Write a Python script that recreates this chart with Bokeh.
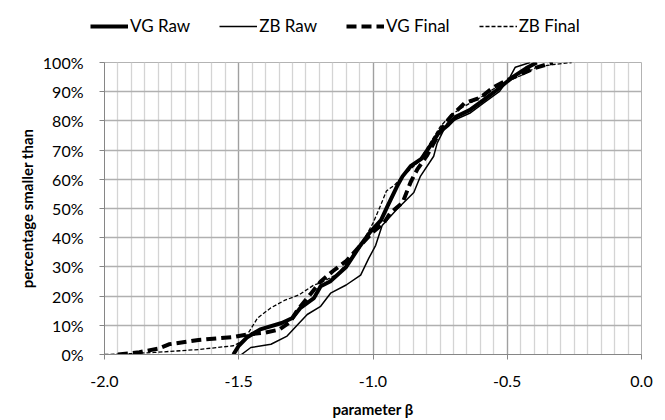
from bokeh.plotting import figure
from bokeh.layouts import column
from bokeh.models import (Range1d, SingleIntervalTicker, NumeralTickFormatter, Legend, LegendItem)
from bokeh.embed import file_html
from bokeh.resources import INLINE

# ---- data (parameter beta vs. cumulative percentage) ----
vg_raw_x = [-1.52, -1.50, -1.47, -1.42, -1.34, -1.30, -1.27, -1.22, -1.195, -1.16, -1.10, -1.05,
            -1.01, -0.97, -0.945, -0.91, -0.89, -0.86, -0.82, -0.79, -0.755, -0.72, -0.69, -0.64,
            -0.59, -0.54, -0.48, -0.43, -0.39]
vg_raw_y = [0, 3, 5.8, 8.6, 10.8, 12.5, 16, 19.3, 23.4, 25, 30, 37, 42, 46, 51, 57.7, 61, 64.5,
            67, 71, 76, 78.6, 81.5, 83.7, 87, 90.5, 95, 98, 100]

zb_raw_x = [-1.49, -1.455, -1.38, -1.32, -1.28, -1.245, -1.195, -1.158, -1.10, -1.046, -1.016,
            -0.99, -0.966, -0.91, -0.873, -0.848, -0.823, -0.774, -0.761, -0.724, -0.64, -0.59,
            -0.53, -0.49, -0.47, -0.415]
zb_raw_y = [0, 2.4, 3.5, 6.3, 10.3, 13.7, 16.5, 21, 23.8, 27.2, 32.9, 37.4, 44.2, 49.8, 53.2,
            55.5, 61.1, 67.9, 72.4, 79.2, 82.6, 86, 90, 95, 98.4, 100]

vg_final_x = [-1.95, -1.87, -1.80, -1.76, -1.65, -1.52, -1.47, -1.40, -1.35, -1.31, -1.28, -1.23,
              -1.195, -1.15, -1.10, -1.05, -1.00, -0.96, -0.935, -0.89, -0.86, -0.835, -0.80,
              -0.77, -0.74, -0.71, -0.66, -0.60, -0.55, -0.50, -0.45, -0.40, -0.33]
vg_final_y = [0, 0.8, 2, 3.5, 5, 6, 6.8, 7.5, 8.5, 11, 15.4, 21, 25, 28.5, 32, 37, 42, 45, 48.5,
              52, 59, 63.4, 68, 73, 78, 81.5, 86, 88, 91.6, 94, 96, 98, 100]

zb_final_x = [-2.0, -1.90, -1.815, -1.65, -1.52, -1.486, -1.46, -1.43, -1.38, -1.33, -1.276,
              -1.22, -1.195, -1.133, -1.10, -1.06, -1.03, -1.00, -0.972, -0.95, -0.92, -0.89,
              -0.83, -0.79, -0.75, -0.71, -0.66, -0.60, -0.55, -0.50, -0.45, -0.39, -0.33, -0.26]
zb_final_y = [0, 0.3, 0.7, 1.7, 3, 4.6, 8, 12.5, 16, 18.5, 20.4, 23.8, 24.5, 27.5, 31, 36, 40,
              45, 51, 56, 58, 61, 66, 72, 78, 82, 85, 88, 91, 93.5, 95.5, 98.4, 99.3, 100]

series_names = ["VG Raw", "ZB Raw", "VG Final", "ZB Final"]

FONT = "Lato"
FS = "16px"

STYLES = [dict(line_color="black", line_width=4, line_join="round"),
          dict(line_color="black", line_width=1.5, line_join="round"),
          dict(line_color="black", line_width=4, line_dash="10 5", line_join="round"),
          dict(line_color="black", line_width=1.3, line_dash="4 2", line_join="round")]

def pct(v):
    return [a / 100.0 for a in v]

SERIES = [(vg_raw_x, vg_raw_y), (zb_raw_x, zb_raw_y),
          (vg_final_x, vg_final_y), (zb_final_x, zb_final_y)]

# ---- main chart ----
p = figure(width=660, height=376, output_backend="svg", toolbar_location=None,
           x_range=Range1d(-2.0, 0.0), y_range=Range1d(0, 1),
           min_border_left=104, min_border_right=19, min_border_top=18, min_border_bottom=63)
p.frame_align = False
p.outline_line_color = "#b3b3b3"
p.background_fill_color = "white"
p.border_fill_color = "white"

p.xaxis.ticker = SingleIntervalTicker(interval=0.5, num_minor_ticks=10)
p.yaxis.ticker = SingleIntervalTicker(interval=0.1, num_minor_ticks=0)
p.xaxis.formatter = NumeralTickFormatter(format="0.0")
p.yaxis.formatter = NumeralTickFormatter(format="0%")
for ax in (p.xaxis[0], p.yaxis[0]):
    ax.axis_line_color = "#868686"
    ax.major_tick_line_color = "#868686"
    ax.major_tick_out = 5
    ax.major_tick_in = 0
    ax.minor_tick_line_color = None
    ax.major_label_text_font = FONT
    ax.major_label_text_font_size = FS
    ax.major_label_text_color = "#000000"
    ax.axis_label_text_font = FONT
    ax.axis_label_text_font_size = "15px"
    ax.axis_label_text_font_style = "bold"
    ax.axis_label_text_color = "#000000"
p.xaxis.axis_label = "parameter β"
p.yaxis.axis_label = "percentage smaller than"
p.yaxis.major_label_standoff = 16
p.xaxis.major_label_standoff = 16
p.yaxis.axis_label_standoff = 4
p.xaxis.axis_label_standoff = 10

p.xgrid.grid_line_color = "#a0a0a0"
p.xgrid.grid_line_width = 1.3
p.xgrid.minor_grid_line_color = "#d4d4d4"
p.xgrid.minor_grid_line_width = 1.3
p.ygrid.grid_line_color = "#b0b0b0"
p.ygrid.grid_line_width = 1.3

for (xs, ys), st in zip(SERIES, STYLES):
    p.line(xs, pct(ys), **st)

# ---- legend strip above the chart ----
lg = figure(width=660, height=44, output_backend="svg", toolbar_location=None,
            x_range=Range1d(-2.0, 0.0), y_range=Range1d(0, 1),
            min_border=0, x_axis_type=None, y_axis_type=None)
lg.frame_align = False
lg.outline_line_color = None
lg.xgrid.visible = False
lg.ygrid.visible = False
lg_renderers = []
for (xs, ys), st in zip(SERIES, STYLES):
    r = lg.line(xs, pct(ys), **st)
    r.visible = False
    lg_renderers.append(r)

legend = Legend(items=[LegendItem(label=n, renderers=[r]) for n, r in
                       zip(series_names, lg_renderers)],
                orientation="horizontal", location=(90, 8),
                glyph_width=38, glyph_height=16, label_standoff=2, spacing=29,
                padding=0, margin=0, border_line_color=None, background_fill_alpha=0,
                label_text_font=FONT, label_text_font_size="17px", label_text_color="#000000")
lg.add_layout(legend, "center")

layout = column(lg, p, spacing=0)
open("out.html", "w").write(file_html(layout, INLINE))
